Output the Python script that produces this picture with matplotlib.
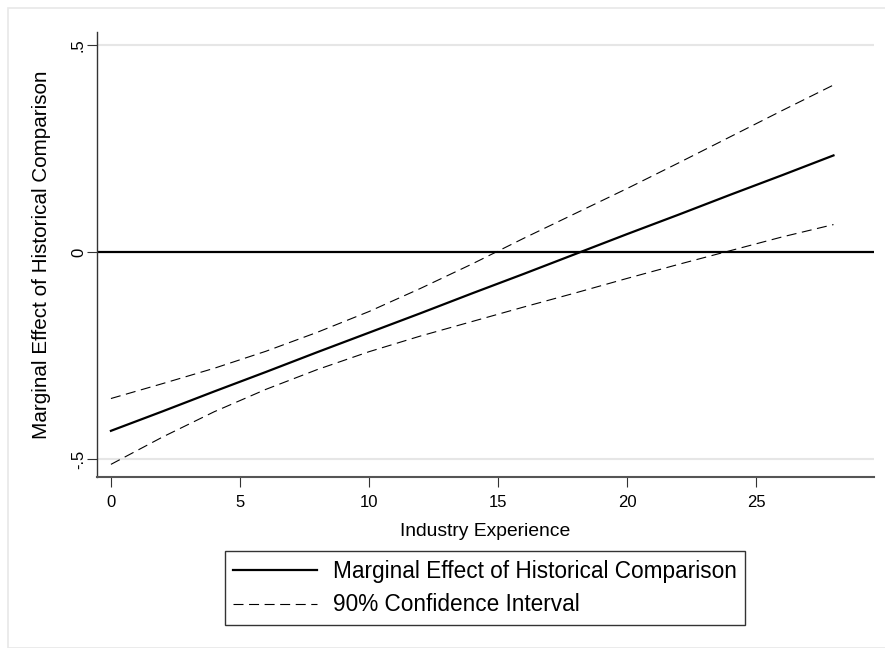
import numpy as np
import matplotlib
matplotlib.use("Agg")
import matplotlib.pyplot as plt
from matplotlib.patches import Rectangle

plt.rcParams["font.family"] = ["Liberation Sans", "DejaVu Sans"]

# values
experience = [0, 2, 4, 6, 8, 10, 12, 14, 16, 18, 20, 22, 24, 26, 28]
marg_effect = [-0.432, -0.385, -0.337, -0.290, -0.242, -0.195, -0.148, -0.100,
               -0.053, -0.005, 0.043, 0.090, 0.138, 0.185, 0.233]
ci_upper = [-0.354, -0.318, -0.281, -0.240, -0.194, -0.144, -0.088, -0.029,
            0.033, 0.093, 0.153, 0.215, 0.278, 0.341, 0.403]
ci_lower = [-0.513, -0.447, -0.386, -0.332, -0.284, -0.241, -0.203, -0.168,
            -0.133, -0.099, -0.064, -0.030, 0.003, 0.036, 0.066]

xticks = [0, 5, 10, 15, 20, 25]
yticks = [-0.5, 0, 0.5]
ytick_labels = ["-.5", "0", ".5"]

fig = plt.figure(figsize=(8.85, 6.48), dpi=100)
fig.patch.set_facecolor("white")

# light outer frame (stata style)
fig.patches.append(Rectangle((8 / 885, 0), 1.0, 1 - 8 / 648, transform=fig.transFigure,
                             fill=False, edgecolor="#e8e8e8", linewidth=1.2))

ax = fig.add_axes([97 / 885, 1 - 477 / 648, (874 - 97) / 885, (477 - 32) / 648])

for yv in [-0.5, 0.5]:
    ax.axhline(yv, color="#e6e6e6", linewidth=1.5, zorder=0)
ax.axhline(0, color="black", linewidth=1.6, zorder=1)

ax.plot(experience, marg_effect, color="black", linewidth=1.6,
        label="Marginal Effect of Historical Comparison", zorder=3)
ax.plot(experience, ci_upper, color="black", linewidth=0.8, dashes=(9, 5),
        label="90% Confidence Interval", zorder=2)
ax.plot(experience, ci_lower, color="black", linewidth=0.8, dashes=(9, 5), zorder=2)

ax.set_xlim(-0.54, 29.57)
ax.set_ylim(-0.5435, 0.531)
ax.set_xticks(xticks)
ax.set_yticks(yticks)
ax.set_yticklabels(ytick_labels, rotation=90, va="center")

for side in ["top", "right"]:
    ax.spines[side].set_visible(False)
ax.spines["left"].set_color("#333333")
ax.spines["bottom"].set_color("#555555")
ax.spines["left"].set_linewidth(1.0)
ax.spines["bottom"].set_linewidth(1.5)
ax.tick_params(axis="both", direction="out", length=7, width=0.8,
               color="#333333", labelsize=12)
ax.tick_params(axis="x", pad=6)
ax.tick_params(axis="y", pad=1)

ax.set_xlabel("Industry Experience", fontsize=13.9, labelpad=9)
ax.set_ylabel("Marginal Effect of Historical Comparison", fontsize=14.9, labelpad=14)

leg = fig.legend(loc="center", bbox_to_anchor=(485 / 885, 1 - 588 / 648),
                 fontsize=16.3, handlelength=3.7, handletextpad=0.7,
                 frameon=True, fancybox=False, borderpad=0.36, labelspacing=0.48,
                 borderaxespad=0)
leg.get_frame().set_edgecolor("black")
leg.get_frame().set_linewidth(1.0)

fig.savefig("out.png", dpi=100)
